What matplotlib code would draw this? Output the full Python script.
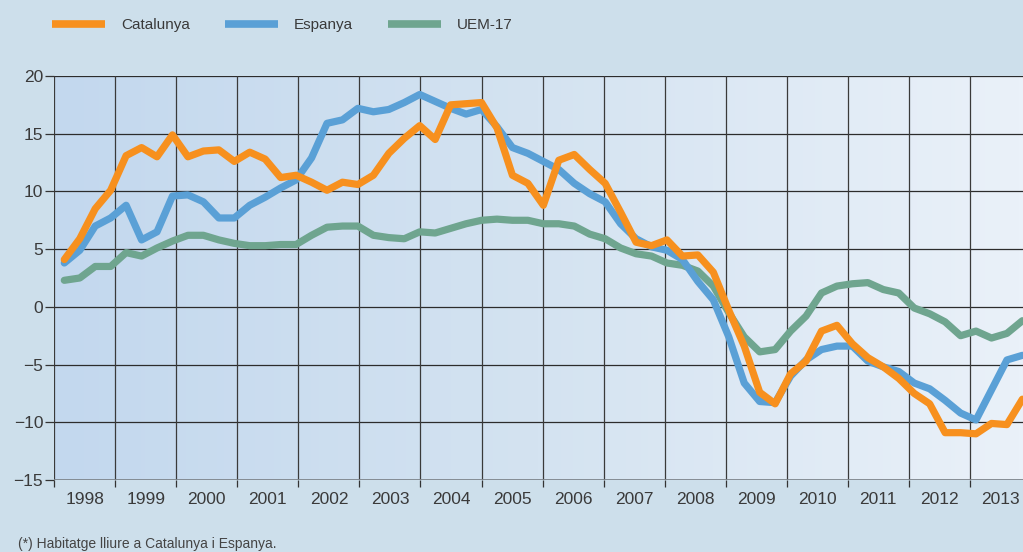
import numpy as np
import matplotlib.pyplot as plt
from matplotlib.colors import LinearSegmentedColormap
from matplotlib.lines import Line2D

# quarterly series, 1998Q1 onward
catalunya = [4.1, 5.9, 8.5, 10.1, 13.1, 13.8, 13.0, 14.9, 13.0, 13.5, 13.6, 12.6, 13.4, 12.8, 11.2, 11.4,
             10.8, 10.1, 10.8, 10.6, 11.4, 13.3, 14.6, 15.7, 14.5, 17.5, 17.6, 17.7, 15.5, 11.4, 10.7, 8.8,
             12.7, 13.2, 11.9, 10.7, 8.2, 5.6, 5.3, 5.8, 4.4, 4.5, 3.0, -0.3, -3.4, -7.4, -8.4, -5.8,
             -4.7, -2.1, -1.6, -3.2, -4.4, -5.2, -6.2, -7.5, -8.4, -10.9, -10.9, -11.0, -10.1, -10.2, -8.0]
espanya = [3.8, 4.9, 7.0, 7.7, 8.8, 5.8, 6.5, 9.6, 9.7, 9.1, 7.7, 7.7, 8.8, 9.5, 10.3, 11.0,
           12.9, 15.9, 16.2, 17.2, 16.9, 17.1, 17.7, 18.4, 17.8, 17.2, 16.7, 17.1, 15.6, 13.8, 13.3, 12.6,
           11.9, 10.7, 9.8, 9.1, 7.2, 5.9, 5.2, 4.9, 4.1, 2.2, 0.6, -2.6, -6.6, -8.2, -8.3, -6.0,
           -4.6, -3.7, -3.4, -3.4, -4.7, -5.2, -5.6, -6.6, -7.1, -8.1, -9.2, -9.8, -7.2, -4.6, -4.2]
uem17 = [2.3, 2.5, 3.5, 3.5, 4.7, 4.4, 5.1, 5.7, 6.2, 6.2, 5.8, 5.5, 5.3, 5.3, 5.4, 5.4,
         6.2, 6.9, 7.0, 7.0, 6.2, 6.0, 5.9, 6.5, 6.4, 6.8, 7.2, 7.5, 7.6, 7.5, 7.5, 7.2,
         7.2, 7.0, 6.3, 5.9, 5.1, 4.6, 4.4, 3.8, 3.6, 3.1, 1.8, -0.5, -2.6, -3.9, -3.7, -2.1,
         -0.8, 1.2, 1.8, 2.0, 2.1, 1.5, 1.2, -0.1, -0.6, -1.3, -2.5, -2.1, -2.7, -2.3, -1.2]
years = list(range(1998, 2014))
yticks = [-15, -10, -5, 0, 5, 10, 15, 20]
labels = ['Catalunya', 'Espanya', 'UEM-17']
colors = ['#f7901e', '#5aa0d6', '#6fa58f']

plt.rcParams['font.family'] = ['Liberation Sans', 'DejaVu Sans']
txt = '#3a3a3a'

W, H = 1023, 552
fig = plt.figure(figsize=(W / 100, H / 100), dpi=100, facecolor='#cddfeb')
ax = fig.add_axes([54.3 / W, 1 - 480 / H, 1 - 54.3 / W, (480 - 76) / H])

x0, xr = 1998, 1998 + (W - 54.3) / 61.03
x = 1998.164 + 0.2532 * np.arange(len(catalunya))

cmap = LinearSegmentedColormap.from_list('bg', ['#c3d8ee', '#d4e3f1', '#eaf1f9'])
ax.imshow(np.linspace(0, 1, 256).reshape(1, -1), extent=[x0, xr, -15, 20],
          aspect='auto', cmap=cmap, zorder=0)

for y in yticks[1:]:
    ax.axhline(y, color='#2c2c2c', lw=0.9, zorder=1)
for yr in years:
    ax.axvline(yr, color='#3a3a3a', lw=0.9, zorder=1)
ax.axhline(-15, color='#7d848b', lw=2, zorder=1)

series = [uem17, espanya, catalunya]
for vals, c in zip(series, colors[::-1]):
    ax.plot(x, vals, color=c, lw=5.2, solid_capstyle='round', solid_joinstyle='round', zorder=3)

ax.set_xlim(x0, xr)
ax.set_ylim(-15, 20)
for s in ax.spines.values():
    s.set_visible(False)

ax.set_yticks(yticks)
ax.set_yticklabels([str(v).replace('-', '\u2212') for v in yticks])
ax.tick_params(axis='y', length=6.5, width=0.9, color='#333333', pad=1.5,
               labelsize=12.5, labelcolor=txt)
ax.set_xticks(years)
ax.set_xticklabels([])
ax.set_xticks([yr + 0.5 for yr in years], minor=True)
ax.set_xticklabels([str(yr) for yr in years], minor=True)
ax.tick_params(axis='x', which='major', length=5, width=0.9, color='#333333')
ax.tick_params(axis='x', which='minor', length=0, pad=8.5, labelsize=12.5, labelcolor=txt)

handles = [Line2D([], [], color=c, lw=5.5, solid_capstyle='butt') for c in colors]
fig.legend(handles, labels, loc='center left', bbox_to_anchor=(52 / W, 1 - 25 / H),
           ncol=3, frameon=False, fontsize=11, labelcolor=txt, handlelength=3.5,
           handletextpad=1.0, columnspacing=2.3, borderpad=0, borderaxespad=0)

fig.text(18 / W, 1 - 544 / H, '(*) Habitatge lliure a Catalunya i Espanya.',
         fontsize=10, color='#444444', va='center')

fig.savefig('out.png', dpi=100, facecolor=fig.get_facecolor())
